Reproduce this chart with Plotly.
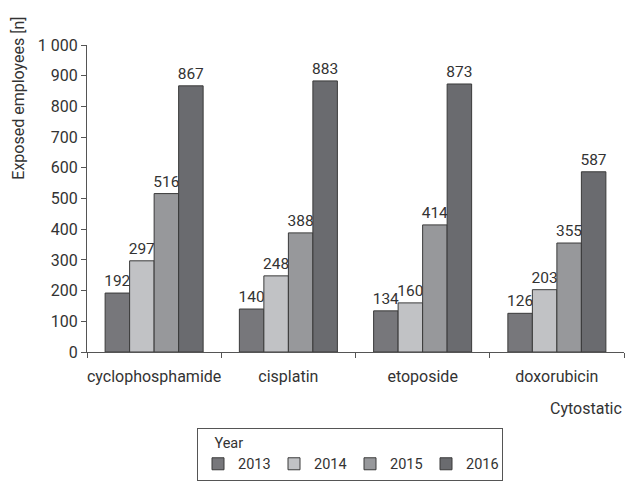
import plotly.graph_objects as go

categories = ["cyclophosphamide", "cisplatin", "etoposide", "doxorubicin"]
years = ["2013", "2014", "2015", "2016"]
values_2013 = [192, 140, 134, 126]
values_2014 = [297, 248, 160, 203]
values_2015 = [516, 388, 414, 355]
values_2016 = [867, 883, 873, 587]
y_tickvals = [0, 100, 200, 300, 400, 500, 600, 700, 800, 900, 1000]
y_ticktext = ["0", "100", "200", "300", "400", "500", "600", "700", "800", "900", "1 000"]

series = [values_2013, values_2014, values_2015, values_2016]
colors = ["#77777b", "#c1c2c5", "#97989b", "#6a6b6f"]

FONT = "Roboto, Liberation Sans, sans-serif"
W, H = 627, 485

fig = go.Figure()
for yr, vals, col in zip(years, series, colors):
    fig.add_trace(go.Bar(
        x=categories, y=vals, name=yr,
        marker=dict(color=col, line=dict(color="#3a3a3a", width=1)),
        text=[str(v) for v in vals], textposition="outside",
        constraintext="none",
        textfont=dict(size=15.5, color="#333333", family=FONT),
        cliponaxis=False,
    ))

fig.update_layout(
    width=W, height=H,
    margin=dict(l=87, r=3, t=45, b=133, autoexpand=False),
    paper_bgcolor="white", plot_bgcolor="white",
    barmode="group", bargap=0.27, bargroupgap=0,
    font=dict(family=FONT, size=16, color="#333333"),
    showlegend=True,
    legend=dict(
        orientation="h",
        xref="container", yref="container",
        x=197 / W, y=1 - 428 / H, xanchor="left", yanchor="top",
        bordercolor="#555555", borderwidth=1,
        title=dict(text="\u00a0\u00a0\u00a0\u00a0Year", side="top", font=dict(size=14.5, family=FONT)),
        font=dict(size=14.5, family=FONT),
        itemwidth=30,
        entrywidth=31, entrywidthmode="pixels",
        traceorder="normal",
    ),
)

fig.update_yaxes(
    range=[0, 1000], automargin=False,
    tickvals=y_tickvals, ticktext=y_ticktext,
    ticks="outside", ticklen=5, tickcolor="#555555",
    showline=True, linecolor="#555555", linewidth=1,
    showgrid=False, zeroline=False,
    tickfont=dict(size=16, family=FONT, color="#333333"),
)
fig.update_xaxes(
    automargin=False,
    ticks="outside", tickson="boundaries", ticklen=5, tickcolor="#555555",
    showline=True, linecolor="#555555", linewidth=1,
    showgrid=False, tickangle=0, ticklabelstandoff=10,
    tickfont=dict(size=16, family=FONT, color="#333333"),
)

fig.add_annotation(
    text="Exposed employees [n]", textangle=-90,
    xref="paper", yref="paper", x=-0.128, y=1.098,
    xanchor="center", yanchor="top", showarrow=False,
    font=dict(size=16, family=FONT, color="#333333"),
)
fig.add_annotation(
    text="Cytostatic",
    xref="paper", yref="paper", x=1.0, y=-0.148,
    xanchor="right", yanchor="top", showarrow=False,
    font=dict(size=16, family=FONT, color="#333333"),
)

fig.write_html(
    "out.html",
    config={"displayModeBar": False},
    post_script="document.body.style.margin='0';",
)
